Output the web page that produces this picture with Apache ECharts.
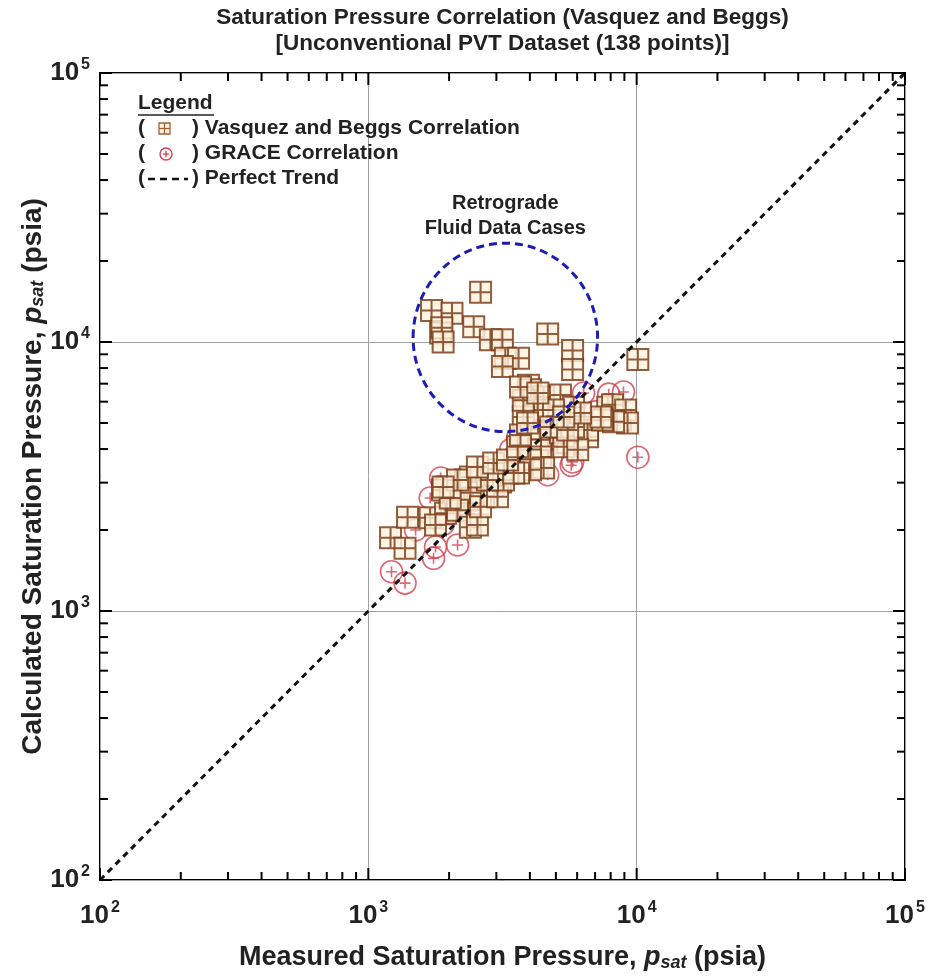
<!DOCTYPE html>
<html>
<head>
<meta charset="utf-8">
<script src="https://cdn.jsdelivr.net/npm/echarts@6/dist/echarts.min.js"></script>
<style>
html,body{margin:0;padding:0;background:#fff;}
#chart{width:928px;height:978px;}
</style>
</head>
<body>
<div id="chart"></div>
<script>
// ---------------- data ----------------
const titleLines = ['Saturation Pressure Correlation (Vasquez and Beggs)', '[Unconventional PVT Dataset (138 points)]'];
const axisMin = 100, axisMax = 100000;
const majorTicks = [100, 1000, 10000, 100000];
const minorTicks = [200,300,400,500,600,700,800,900,2000,3000,4000,5000,6000,7000,8000,9000,20000,30000,40000,50000,60000,70000,80000,90000];

// Vasquez and Beggs correlation: [measured psat, calculated psat]
const vasquezBeggs = [
  [2620,15300],[1720,13100],[2050,12800],[1860,10800],[1880,11300],[1900,10000],[2470,11400],[2850,10200],[3160,10200],
  [4660,10700],[5770,9300],[5770,7900],[3240,8700],[3630,8700],[3160,8100],[3950,6900],[10100,8600],
  [4020,6640],[4500,6250],[3850,6080],[5200,6350],[5820,5720],[4280,5590],[4900,5590],[3780,5260],[7800,5720],
  [8710,5130],[7530,5130],[4020,4400],[4500,4600],[5350,4710],[6180,4830],[6560,4440],[5530,4220],[4280,3970],
  [8130,5840],[9100,5590],[9250,5000],[8200,5050],[6560,4710],[7460,5130],
  [3950,4330],[4390,4330],[4020,3970],[4390,3740],[4020,3640],[4500,3400],[4020,3350],[3630,3260],[3300,3260],
  [3110,3020],[2980,3350],[2690,3070],[2470,2890],[2200,2820],[1970,2890],[2340,2590],[2690,2660],[2080,2590],
  [5200,4600],[5820,4830],[5350,4080],[6030,3980],[5070,4830],
  [1210,1870],[1370,1710],[1400,2230],[1700,2220],[1940,2310],[1890,2820],[2300,3070],[2400,2750],[2150,2370],
  [2400,2050],[2550,2090],[2620,2440],[3030,2660],[3190,3070],[3480,3260],[2780,3070],[2020,2630],[1780,2090],
  [2400,3150],[2150,3070],[1900,2890],[2550,3430],[2930,3550],[3300,3640],[3600,4080],[3690,4510],[3920,5000],
  [3780,6080],[3690,6810],[4280,6460],[4780,4830],[5530,4710],[7350,5260],[6180,5450],[5350,5260]
];

// GRACE correlation: [measured psat, calculated psat]
const graceCorr = [
  [1220,1400],[1370,1270],[1780,1730],[1750,1570],[2150,1760],[1860,3120],[1700,2630],[5770,3580],[5700,3480],
  [4660,3210],[3390,3980],[8930,6520],[6340,6460],[10100,3730],[7870,6400],[3600,4400],
  [1500,2000],[2000,2300],[2500,2600],[3000,2900],[3500,3300],[4000,3800],[4500,4200],[5000,4500],[2200,2500],
  [2700,2800],[3200,3100],[6000,5000],[7000,5500],[1900,2100],[4200,4100],[2400,2300],[3800,3500],[5500,4700]
];

const perfectTrend = [[100,100],[100000,100000]];

// retrograde annotation (data space): centre, right edge x, top edge y
const retroCenter = [3240, 10400];
const retroEdgeX = 7150;
const retroEdgeY = 23300;
const retroLabel = ['Retrograde', 'Fluid Data Cases'];

// ---------------- styles ----------------
const FONT = "'Liberation Sans',Arial,sans-serif";
const sqPath = 'path://M0,0H20V20H0Z M10,0V20 M0,10H20';
const cirPath = 'path://M10,0A10,10 0 1,1 10,20A10,10 0 1,1 10,0Z M10,5V15 M5,10H15';
const SQ_FILL = '#fff3de', SQ_LINE = '#74340f';
const CIR_LINE = '#d4404f';
const INK = '#222';

const chart = echarts.init(document.getElementById('chart'), null, {renderer: 'canvas'});

function expLabel(v){
  const e = Math.round(Math.log10(v));
  return '{b|10}{s|' + e + '}';
}
const labelRich = {
  b: {fontSize: 26, fontWeight: 'bold', fontFamily: FONT, color: INK},
  s: {fontSize: 16, fontWeight: 'bold', fontFamily: FONT, color: INK, verticalAlign: 'top', padding: [0, 0, 16, 2]}
};

function tickSeries(isX){
  const data = [];
  majorTicks.forEach(v => data.push(isX ? [v, 1000, 1] : [1000, v, 1]));
  minorTicks.forEach(v => data.push(isX ? [v, 1000, 0] : [1000, v, 0]));
  return {
    type: 'custom', silent: true, z: 5, clip: false,
    data: data,
    renderItem: function(params, api){
      const v = isX ? api.value(0) : api.value(1);
      const len = api.value(2) ? 12 : 8;
      const st = {stroke: '#000', lineWidth: 2};
      if (isX){
        const b = api.coord([v, axisMin]);
        const t = api.coord([v, axisMax]);
        return {type: 'group', children: [
          {type: 'line', shape: {x1: b[0], y1: b[1], x2: b[0], y2: b[1] - len}, style: st},
          {type: 'line', shape: {x1: t[0], y1: t[1], x2: t[0], y2: t[1] + len}, style: st}
        ]};
      } else {
        const l = api.coord([axisMin, v]);
        const r = api.coord([axisMax, v]);
        return {type: 'group', children: [
          {type: 'line', shape: {x1: l[0], y1: l[1], x2: l[0] + len, y2: l[1]}, style: st},
          {type: 'line', shape: {x1: r[0], y1: r[1], x2: r[0] - len, y2: r[1]}, style: st}
        ]};
      }
    }
  };
}

const option = {
  backgroundColor: '#fff',
  animation: false,
  grid: {left: 100, right: 23, top: 73, bottom: 98, show: true, borderColor: '#000', borderWidth: 2, backgroundColor: 'transparent'},
  xAxis: {
    type: 'log', logBase: 10, min: axisMin, max: axisMax,
    axisLine: {show: false}, axisTick: {show: false},
    splitLine: {show: true, lineStyle: {color: '#a0a0a0', width: 1}},
    axisLabel: {formatter: expLabel, rich: labelRich, margin: 20}
  },
  yAxis: {
    type: 'log', logBase: 10, min: axisMin, max: axisMax,
    axisLine: {show: false}, axisTick: {show: false},
    splitLine: {show: true, lineStyle: {color: '#a0a0a0', width: 1}},
    axisLabel: {formatter: expLabel, rich: labelRich, margin: 10}
  },
  series: [
    {
      name: 'GRACE Correlation', type: 'scatter', data: graceCorr, z: 2,
      symbol: cirPath, symbolSize: 22,
      itemStyle: {color: 'rgba(255,255,255,0)', borderColor: CIR_LINE, borderWidth: 1.6}
    },
    {
      name: 'Vasquez and Beggs Correlation', type: 'scatter', data: vasquezBeggs, z: 3,
      symbol: sqPath, symbolSize: 21,
      itemStyle: {color: SQ_FILL, borderColor: SQ_LINE, borderWidth: 2}
    },
    {
      name: 'Perfect Trend', type: 'line', data: perfectTrend, z: 4, symbol: 'none',
      lineStyle: {color: '#111', width: 3, type: [6, 5]}
    },
    tickSeries(true),
    tickSeries(false)
  ]
};
chart.setOption(option);

// --------- annotations (positions derived through the axes) ---------
const c = chart.convertToPixel({gridIndex: 0}, retroCenter);
const ex = chart.convertToPixel({gridIndex: 0}, [retroEdgeX, retroCenter[1]]);
const ey = chart.convertToPixel({gridIndex: 0}, [retroCenter[0], retroEdgeY]);
const rx = ex[0] - c[0], ry = c[1] - ey[1];
const plotL = chart.convertToPixel({gridIndex: 0}, [axisMin, axisMin]);
const plotR = chart.convertToPixel({gridIndex: 0}, [axisMax, axisMax]);
const midX = (plotL[0] + plotR[0]) / 2;
const midY = (plotL[1] + plotR[1]) / 2;

const txt = (x, y, text, size, extra) => Object.assign({
  type: 'text', x: x, y: y, z: 100,
  style: Object.assign({text: text, fontSize: size, fontWeight: 'bold', fontFamily: FONT, fill: INK, textVerticalAlign: 'middle'}, extra || {})
});
const axisTitle = (x, y, text, rot, size) => ({
  type: 'text', x: x, y: y, rotation: rot, z: 100,
  style: {
    text: text, textAlign: 'center', textVerticalAlign: 'middle', fontSize: size, fontWeight: 'bold', fontFamily: FONT, fill: INK,
    rich: {
      i: {fontSize: size, fontStyle: 'italic', fontWeight: 'bold', fontFamily: FONT, fill: INK},
      sub: {fontSize: Math.round(size * 0.65), fontStyle: 'italic', fontWeight: 'bold', fontFamily: FONT, fill: INK, verticalAlign: 'bottom', padding: [10, 0, 0, 0]}
    }
  }
});

const graphic = [
  // title
  txt(midX, 18, titleLines[0], 22.5, {textAlign: 'center'}),
  txt(midX, 44, titleLines[1], 22.5, {textAlign: 'center'}),
  // axis titles
  axisTitle(midX, 958, 'Measured Saturation Pressure, {i|p}{sub|sat} (psia)', 0, 27),
  axisTitle(33, midY, 'Calculated Saturation Pressure, {i|p}{sub|sat} (psia)', Math.PI / 2, 28),
  // legend
  txt(138, 103, 'Legend', 21),
  {type: 'line', z: 100, shape: {x1: 138, y1: 115, x2: 214, y2: 115}, style: {stroke: INK, lineWidth: 1.5}},
  txt(138, 128, '(', 21),
  {type: 'rect', z: 100, shape: {x: 159, y: 123, width: 11, height: 11}, style: {fill: SQ_FILL, stroke: '#a0603a', lineWidth: 1.3}},
  {type: 'line', z: 100, shape: {x1: 164.5, y1: 123, x2: 164.5, y2: 134}, style: {stroke: '#a0603a', lineWidth: 1.3}},
  {type: 'line', z: 100, shape: {x1: 159, y1: 128.5, x2: 170, y2: 128.5}, style: {stroke: '#a0603a', lineWidth: 1.3}},
  txt(192, 128, ') Vasquez and Beggs Correlation', 21),
  txt(138, 153, '(', 21),
  {type: 'circle', z: 100, shape: {cx: 166, cy: 154, r: 6}, style: {fill: 'transparent', stroke: CIR_LINE, lineWidth: 1.4}},
  {type: 'line', z: 100, shape: {x1: 166, y1: 151, x2: 166, y2: 157}, style: {stroke: CIR_LINE, lineWidth: 1.3}},
  {type: 'line', z: 100, shape: {x1: 163, y1: 154, x2: 169, y2: 154}, style: {stroke: CIR_LINE, lineWidth: 1.3}},
  txt(192, 153, ') GRACE Correlation', 21),
  txt(138, 178, '(', 21),
  {type: 'line', z: 100, shape: {x1: 148, y1: 179, x2: 188, y2: 179}, style: {stroke: '#111', lineWidth: 2.5, lineDash: [7, 5]}},
  txt(192, 178, ') Perfect Trend', 21),
  // retrograde annotation
  txt(c[0], 203, retroLabel[0], 20, {textAlign: 'center'}),
  txt(c[0], 228, retroLabel[1], 20, {textAlign: 'center'}),
  {type: 'ellipse', z: 90, shape: {cx: c[0], cy: c[1], rx: rx, ry: ry},
   style: {fill: 'transparent', stroke: '#1c1cb8', lineWidth: 3, lineDash: [8, 5]}}
];
chart.setOption({graphic: graphic});
</script>
</body>
</html>
